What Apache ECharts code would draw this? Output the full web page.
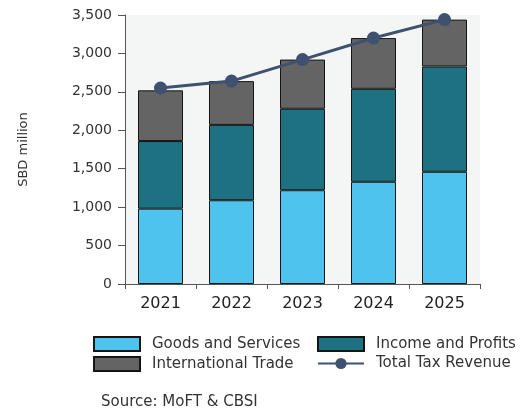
<!DOCTYPE html>
<html>
<head>
<meta charset="utf-8">
<script src="https://cdn.jsdelivr.net/npm/echarts@6/dist/echarts.min.js"></script>
<style>
  html, body { margin: 0; padding: 0; background: #ffffff; }
  #chart { width: 521px; height: 414px; }
</style>
</head>
<body>
<div id="chart"></div>
<script>
// Tax revenue by source, SBD million
const years = ['2021', '2022', '2023', '2024', '2025'];
const goodsServices = [980, 1090, 1220, 1330, 1460];
const incomeProfits = [880, 980, 1060, 1210, 1370];
const internationalTrade = [660, 570, 640, 660, 610];
const totalTaxRevenue = [2550, 2640, 2920, 3200, 3440];

const FONT = '"DejaVu Sans", Verdana, sans-serif';

const chart = echarts.init(document.getElementById('chart'), null, { renderer: 'canvas' });

const barStyle = (color) => ({ color: color, borderColor: '#151515', borderWidth: 1 });

const legendBase = {
  orient: 'vertical', top: 331,
  itemWidth: 46, itemHeight: 14, itemGap: 4,
  textStyle: { fontFamily: FONT, fontSize: 15, color: '#333', padding: [0, 0, 0, 7] }
};

chart.setOption({
  animation: false,
  backgroundColor: '#ffffff',
  grid: {
    left: 125, right: 41, top: 15, bottom: 130,
    show: true, backgroundColor: '#f4f6f6', borderWidth: 0
  },
  legend: [
    Object.assign({}, legendBase, {
      left: 88,
      data: [
        { name: 'Goods and Services', icon: 'rect' },
        { name: 'International Trade', icon: 'rect' }
      ]
    }),
    Object.assign({}, legendBase, {
      left: 312,
      data: [
        { name: 'Income and Profits', icon: 'rect' },
        { name: 'Total Tax Revenue' }
      ]
    })
  ],
  graphic: [{
    type: 'text', left: 101, top: 395,
    style: { text: 'Source: MoFT & CBSI', font: '15px ' + FONT, fill: '#333' }
  }],
  xAxis: {
    type: 'category',
    data: years,
    axisLine: { lineStyle: { color: '#555', width: 1 } },
    axisTick: { show: true, length: 5, lineStyle: { color: '#555' } },
    axisLabel: { fontFamily: FONT, fontSize: 16, color: '#222', margin: 12 }
  },
  yAxis: {
    type: 'value',
    min: 0, max: 3500, interval: 500,
    name: 'SBD million',
    nameLocation: 'middle',
    nameGap: 95,
    nameTextStyle: { fontFamily: FONT, fontSize: 13, color: '#333' },
    axisLine: { show: true, lineStyle: { color: '#555', width: 1 } },
    axisTick: { show: true, length: 7, lineStyle: { color: '#555' } },
    splitLine: { show: false },
    axisLabel: {
      fontFamily: FONT, fontSize: 14, color: '#333', margin: 13,
      formatter: (v) => v.toLocaleString('en-US')
    }
  },
  series: [
    {
      name: 'Goods and Services', type: 'bar', stack: 'tax',
      barWidth: 45, data: goodsServices, itemStyle: barStyle('#4ec3ee')
    },
    {
      name: 'Income and Profits', type: 'bar', stack: 'tax',
      barWidth: 45, data: incomeProfits, itemStyle: barStyle('#1e7181')
    },
    {
      name: 'International Trade', type: 'bar', stack: 'tax',
      barWidth: 45, data: internationalTrade, itemStyle: barStyle('#646464')
    },
    {
      name: 'Total Tax Revenue', type: 'line', data: totalTaxRevenue,
      symbol: 'circle', symbolSize: 13,
      lineStyle: { color: '#3f5170', width: 3 },
      itemStyle: { color: '#3f5170' },
      z: 5
    }
  ]
});
</script>
</body>
</html>
